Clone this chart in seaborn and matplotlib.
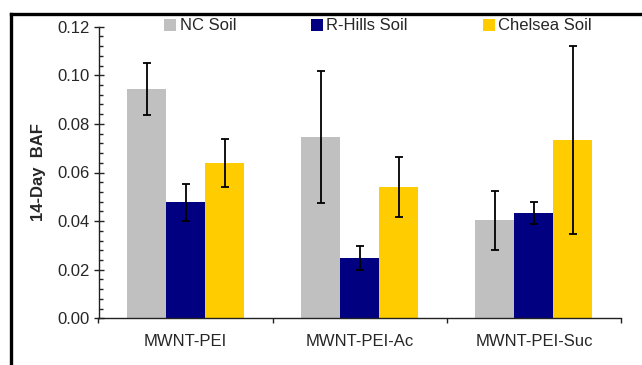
import matplotlib
matplotlib.use("Agg")
import matplotlib.pyplot as plt
import seaborn as sns
import pandas as pd
import numpy as np
from matplotlib.patches import Patch
from matplotlib.lines import Line2D
from matplotlib.ticker import MultipleLocator

categories = ["MWNT-PEI", "MWNT-PEI-Ac", "MWNT-PEI-Suc"]
soils = ["NC Soil", "R-Hills Soil", "Chelsea Soil"]
nc_vals = [0.0943, 0.0746, 0.0404]
rh_vals = [0.0478, 0.0248, 0.0433]
ch_vals = [0.0639, 0.0541, 0.0733]
nc_err = [0.0108, 0.0271, 0.0121]
rh_err = [0.0076, 0.0048, 0.0046]
ch_err = [0.0097, 0.0124, 0.0386]
colors = ["#C0C0C0", "#000080", "#FFCC00"]
y_label = "14-Day  BAF"

sns.set_theme(style="white")
plt.rcParams["font.family"] = ["Liberation Sans", "DejaVu Sans"]
FS = 12

rows = []
for soil, vals in zip(soils, [nc_vals, rh_vals, ch_vals]):
    for c, v in zip(categories, vals):
        rows.append({"cat": c, "soil": soil, "val": v})
df = pd.DataFrame(rows)

fig = plt.figure(figsize=(6.42, 3.65), dpi=100)
ax = fig.add_axes([98.5 / 642, 1 - 318.3 / 365, (621 - 98.5) / 642, (318.3 - 26.7) / 365])

sns.barplot(data=df, x="cat", y="val", hue="soil", order=categories, hue_order=soils,
            palette=colors, width=0.671, errorbar=None, ax=ax, legend=False,
            saturation=1, linewidth=0)

# error bars at bar centres
errs = [nc_err, rh_err, ch_err]
vals_all = [nc_vals, rh_vals, ch_vals]
bars = [p for p in ax.patches]
idx = 0
for s in range(3):
    for c in range(3):
        p = bars[idx]
        idx += 1
        xc = p.get_x() + p.get_width() / 2
        ax.errorbar(xc, vals_all[s][c], yerr=errs[s][c], fmt="none", ecolor="black",
                    elinewidth=1.3, capsize=3, capthick=1.3, zorder=5)

ax.set_xlim(-0.5, 2.5)
ax.set_ylim(0, 0.12)
ax.yaxis.set_major_locator(MultipleLocator(0.02))
ax.yaxis.set_minor_locator(MultipleLocator(0.004))
ax.set_yticklabels([f"{v:.2f}" for v in ax.get_yticks()])
ax.set_xticks([0, 1, 2])
ax.set_xticklabels(categories)
ax.set_xticks([-0.5, 0.5, 1.5, 2.5], minor=True)

for side in ["top", "right"]:
    ax.spines[side].set_visible(False)
for side in ["left", "bottom"]:
    ax.spines[side].set_color("#222222")
    ax.spines[side].set_linewidth(1.0)

ax.tick_params(axis="y", which="major", direction="inout", length=7.2, width=1.0,
               color="#222222", labelsize=FS, pad=3, left=True)
ax.tick_params(axis="y", which="minor", direction="in", length=3, width=1.0,
               color="#222222", left=True)
ax.tick_params(axis="x", which="major", length=0, labelsize=FS, pad=11)
ax.tick_params(axis="x", which="minor", direction="out", length=3.6, width=1.0,
               color="#222222", bottom=True)
ax.set_xlabel("")
ax.set_ylabel(y_label, fontsize=FS, fontweight="bold", labelpad=8)

handles = [Patch(facecolor=c, edgecolor="none") for c in colors]
fig.legend(handles, soils, loc="center", bbox_to_anchor=(378 / 642, 1 - 26 / 365),
           ncol=3, frameon=False, fontsize=FS, handlelength=0.72, handleheight=0.7,
           handletextpad=0.2, columnspacing=4.5, borderpad=0, borderaxespad=0)

# outer frame (left and top edges visible)
fig.add_artist(Line2D([11 / 642, 11 / 642], [0, 1 - 13.5 / 365], transform=fig.transFigure,
                      color="black", linewidth=2.4, solid_capstyle="projecting"))
fig.add_artist(Line2D([11 / 642, 1], [1 - 13.5 / 365, 1 - 13.5 / 365], transform=fig.transFigure,
                      color="black", linewidth=2.4, solid_capstyle="projecting"))

fig.savefig("out.png", dpi=100)
